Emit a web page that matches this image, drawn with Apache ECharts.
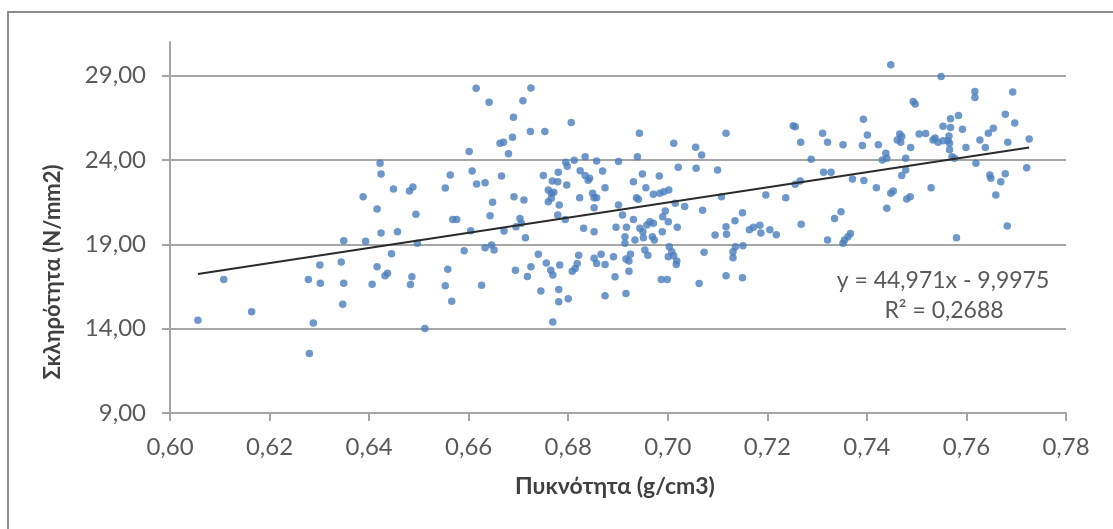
<!DOCTYPE html>
<html>
<head>
<meta charset="utf-8">
<script src="https://cdn.jsdelivr.net/npm/echarts@6/dist/echarts.min.js"></script>
<style>
  html, body { margin: 0; padding: 0; background: #ffffff; }
  #chart { width: 1113px; height: 529px; }
</style>
</head>
<body>
<div id="chart"></div>
<script>
// Wood samples: density (g/cm3) and hardness (N/mm2)
const density = [
  0.6056, 0.6108, 0.6164, 0.6278, 0.6288, 0.6280, 0.6301, 0.6302, 0.6349, 0.6344,
  0.6349, 0.6347, 0.6393, 0.6424, 0.6457, 0.6416, 0.6445, 0.6416, 0.6432, 0.6437,
  0.6406, 0.6615, 0.6601, 0.6607, 0.6616, 0.6422, 0.6424, 0.6388, 0.6449, 0.6481,
  0.6488, 0.6494, 0.6563, 0.6553, 0.6568, 0.6576, 0.6604, 0.6497, 0.6591, 0.6486,
  0.6483, 0.6558, 0.6553, 0.6566, 0.6512, 0.6626, 0.6725, 0.6641, 0.6709, 0.6690,
  0.6806, 0.6724, 0.6753, 0.6688, 0.6663, 0.6670, 0.6680, 0.6633, 0.6666, 0.6648,
  0.6643, 0.6691, 0.6711, 0.6703, 0.6706, 0.6695, 0.6671, 0.6714, 0.6633, 0.6646,
  0.6651, 0.6694, 0.6718, 0.6725, 0.6740, 0.6756, 0.6765, 0.6769, 0.6783, 0.6745,
  0.6781, 0.6781, 0.6800, 0.6769, 0.6808, 0.6814, 0.6818, 0.6821, 0.6852, 0.6857,
  0.6750, 0.6768, 0.6780, 0.6779, 0.6760, 0.6766, 0.6771, 0.6760, 0.6766, 0.6782,
  0.6797, 0.6779, 0.6795, 0.6798, 0.6812, 0.6834, 0.6857, 0.6824, 0.6834, 0.6840,
  0.6843, 0.6849, 0.6852, 0.6857, 0.6823, 0.6852, 0.6794, 0.6831, 0.6852, 0.6943,
  0.7012, 0.7056, 0.7068, 0.6939, 0.6901, 0.6869, 0.7021, 0.7057, 0.7100, 0.6949,
  0.6983, 0.6931, 0.6874, 0.6956, 0.6937, 0.6941, 0.6971, 0.6984, 0.6992, 0.7002,
  0.6901, 0.6909, 0.6931, 0.7015, 0.7034, 0.7070, 0.6995, 0.6990, 0.7001, 0.6964,
  0.6971, 0.6958, 0.6896, 0.6917, 0.6944, 0.6950, 0.6989, 0.7019, 0.6914, 0.6914,
  0.6934, 0.6951, 0.6969, 0.6973, 0.6954, 0.6960, 0.6866, 0.6874, 0.6891, 0.6916,
  0.6922, 0.6925, 0.6922, 0.7003, 0.7008, 0.7012, 0.7001, 0.7018, 0.7017, 0.7073,
  0.7095, 0.6894, 0.6987, 0.6999, 0.7063, 0.6874, 0.6916, 0.7117, 0.7252, 0.7256,
  0.7267, 0.7311, 0.7321, 0.7352, 0.7393, 0.7401, 0.7391, 0.7423, 0.7288, 0.7313,
  0.7328, 0.7371, 0.7394, 0.7419, 0.7266, 0.7256, 0.7197, 0.7237, 0.7108, 0.7150,
  0.7135, 0.7117, 0.7118, 0.7164, 0.7172, 0.7185, 0.7187, 0.7205, 0.7218, 0.7268,
  0.7335, 0.7348, 0.7321, 0.7355, 0.7362, 0.7367, 0.7352, 0.7136, 0.7131, 0.7131,
  0.7151, 0.7117, 0.7150, 0.7448, 0.7549, 0.7617, 0.7617, 0.7693, 0.7493, 0.7497,
  0.7678, 0.7697, 0.7584, 0.7568, 0.7553, 0.7568, 0.7592, 0.7654, 0.7644, 0.7726,
  0.7505, 0.7518, 0.7466, 0.7470, 0.7461, 0.7468, 0.7537, 0.7533, 0.7543, 0.7553,
  0.7563, 0.7565, 0.7566, 0.7627, 0.7683, 0.7488, 0.7599, 0.7638, 0.7566, 0.7571,
  0.7576, 0.7438, 0.7440, 0.7431, 0.7478, 0.7619, 0.7721, 0.7478, 0.7470, 0.7647,
  0.7649, 0.7678, 0.7669, 0.7529, 0.7453, 0.7448, 0.7480, 0.7487, 0.7659, 0.7440,
  0.7682, 0.7580
];

const hardness = [
  14.50, 16.92, 15.00, 16.92, 14.34, 12.53, 17.77, 16.70, 19.21, 17.95,
  16.70, 15.45, 19.18, 19.67, 19.75, 21.09, 18.45, 17.67, 17.14, 17.28,
  16.64, 28.26, 24.50, 23.35, 22.58, 23.81, 23.17, 21.83, 22.28, 22.17,
  22.40, 20.78, 23.11, 22.34, 20.48, 20.48, 19.81, 19.06, 18.62, 17.08,
  16.62, 17.52, 16.54, 15.62, 14.01, 16.58, 28.27, 27.43, 27.51, 26.54,
  26.22, 25.69, 25.69, 25.35, 25.00, 25.06, 24.38, 22.66, 23.06, 21.49,
  20.70, 21.83, 21.63, 20.54, 20.25, 20.05, 19.79, 19.39, 18.80, 18.96,
  18.66, 17.46, 17.10, 17.67, 18.42, 17.89, 17.47, 17.18, 17.77, 16.23,
  16.33, 15.59, 15.77, 14.40, 17.41, 17.57, 17.87, 18.36, 18.17, 17.87,
  23.08, 22.76, 23.27, 22.72, 22.22, 22.03, 22.09, 21.53, 21.73, 21.33,
  22.52, 20.74, 23.87, 23.63, 23.99, 24.20, 23.95, 23.37, 23.08, 22.80,
  22.92, 22.03, 21.77, 21.77, 21.77, 21.17, 20.48, 19.95, 19.75, 25.59,
  25.00, 24.76, 24.30, 24.20, 23.91, 23.35, 23.57, 23.51, 23.41, 23.17,
  23.06, 22.72, 22.36, 22.36, 21.77, 21.67, 21.97, 22.03, 22.12, 22.22,
  21.33, 20.74, 20.48, 21.44, 21.24, 21.02, 20.98, 20.64, 20.34, 20.34,
  20.25, 20.15, 20.01, 20.01, 19.95, 19.75, 19.75, 20.01, 19.45, 19.06,
  19.26, 19.39, 19.45, 19.26, 18.66, 18.36, 18.41, 17.81, 18.26, 18.13,
  18.01, 18.41, 17.41, 18.86, 18.56, 18.33, 18.26, 18.01, 17.81, 18.53,
  19.55, 17.08, 16.92, 16.92, 16.68, 15.95, 16.09, 25.59, 26.04, 25.98,
  25.06, 25.59, 25.06, 24.90, 26.42, 25.49, 24.86, 24.90, 24.05, 23.27,
  23.27, 22.88, 22.78, 22.36, 22.76, 22.56, 21.93, 21.77, 21.83, 20.88,
  20.40, 20.05, 19.60, 19.87, 20.01, 20.13, 19.67, 19.87, 19.57, 20.19,
  20.54, 20.93, 19.26, 19.26, 19.45, 19.65, 19.06, 18.86, 18.56, 18.20,
  18.92, 17.14, 17.02, 29.65, 28.96, 28.06, 27.71, 28.03, 27.47, 27.33,
  26.72, 26.20, 26.64, 26.45, 26.01, 25.93, 25.83, 25.89, 25.59, 25.25,
  25.54, 25.58, 25.54, 25.40, 25.19, 25.06, 25.30, 25.19, 25.06, 25.14,
  25.14, 25.43, 25.00, 25.19, 25.06, 24.74, 24.74, 24.74, 24.61, 24.20,
  24.11, 24.40, 24.11, 24.01, 24.11, 23.81, 23.55, 23.41, 23.08, 23.11,
  22.92, 23.19, 22.72, 22.36, 22.17, 22.03, 21.69, 21.83, 21.93, 21.14,
  20.09, 19.39
];

// Value axis ticks
const yTicks = [9, 14, 19, 24, 29];
const xTickStep = 0.02;

// Linear trend fitted to the samples
const trendSlope = 44.971;
const trendIntercept = -9.9975;
const trendR2 = 0.2688;

const xTitle = 'Πυκνότητα (g/cm3)';
const yTitle = 'Σκληρότητα (N/mm2)';

const points = density.map((d, i) => [d, hardness[i]]);
const xMin = Math.min(...density);
const xMax = Math.max(...density);
const trendLine = [xMin, xMax].map(x => [x, trendSlope * x + trendIntercept]);

const comma = (v, digits) => v.toFixed(digits).replace('.', ',');
const eqText = 'y = ' + comma(trendSlope, 3) + 'x - ' + comma(-trendIntercept, 4);
const r2Text = 'R² = ' + comma(trendR2, 4);

const FONT = "Lato, 'Open Sans', 'DejaVu Sans', sans-serif";
const GRID_COLOR = '#a6a6a6';

const chart = echarts.init(document.getElementById('chart'), null, { renderer: 'canvas' });

chart.setOption({
  animation: false,
  backgroundColor: '#ffffff',
  grid: { left: 170, right: 47, top: 42, bottom: 116, containLabel: false, outerBoundsMode: 'none' },
  xAxis: {
    type: 'value',
    min: 0.6,
    max: 0.78,
    interval: xTickStep,
    axisLine: { show: true, lineStyle: { color: GRID_COLOR, width: 2 } },
    axisTick: { show: true, inside: false, length: 8, lineStyle: { color: GRID_COLOR, width: 2 } },
    splitLine: { show: false },
    axisLabel: {
      margin: 22,
      fontFamily: FONT,
      fontSize: 24,
      color: '#595959',
      formatter: v => comma(v, 2)
    }
  },
  yAxis: {
    type: 'value',
    min: 9,
    max: 31,
    axisLine: { show: true, lineStyle: { color: GRID_COLOR, width: 2 } },
    axisTick: { show: true, inside: false, length: 8, customValues: yTicks, lineStyle: { color: GRID_COLOR, width: 2 } },
    splitLine: { show: true, lineStyle: { color: GRID_COLOR, width: 2 } },
    axisLabel: {
      customValues: yTicks,
      margin: 24,
      fontFamily: FONT,
      fontSize: 24,
      color: '#595959',
      formatter: v => comma(v, 2)
    }
  },
  series: [
    {
      type: 'scatter',
      data: points,
      symbol: 'circle',
      symbolSize: 7.5,
      itemStyle: { color: '#4a7ebb' },
      z: 2
    },
    {
      type: 'line',
      data: trendLine,
      symbol: 'none',
      lineStyle: { color: '#2b2b2b', width: 2 },
      z: 3
    }
  ],
  graphic: [
    {
      type: 'rect',
      shape: { x: 8, y: 12, width: 1112, height: 530 },
      style: { fill: 'none', stroke: '#8c8c8c', lineWidth: 2 },
      silent: true
    },
    {
      type: 'text',
      x: 615, y: 487,
      style: {
        text: xTitle, fontFamily: FONT, fontSize: 23, fontWeight: 'bold',
        fill: '#404040', align: 'center', verticalAlign: 'middle'
      }
    },
    {
      type: 'text',
      x: 53, y: 272,
      rotation: Math.PI / 2,
      style: {
        text: yTitle, fontFamily: FONT, fontSize: 22, fontWeight: 'bold',
        fill: '#404040', align: 'center', verticalAlign: 'middle'
      }
    },
    {
      type: 'text',
      x: 943, y: 281,
      style: {
        text: eqText, fontFamily: FONT, fontSize: 23,
        fill: '#595959', align: 'center', verticalAlign: 'middle'
      }
    },
    {
      type: 'text',
      x: 944, y: 311,
      style: {
        text: r2Text, fontFamily: FONT, fontSize: 23,
        fill: '#595959', align: 'center', verticalAlign: 'middle'
      }
    }
  ]
});
</script>
</body>
</html>
